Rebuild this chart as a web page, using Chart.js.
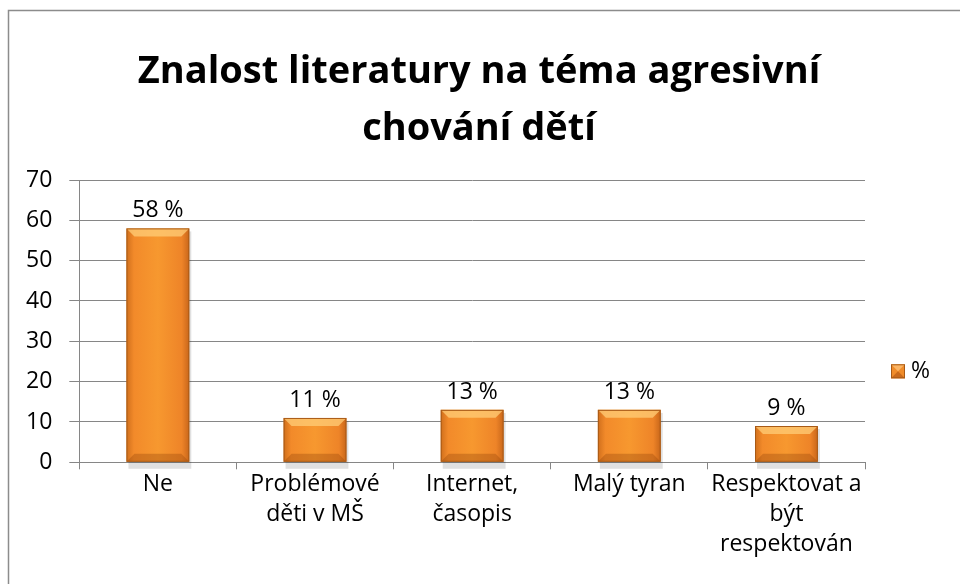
<!DOCTYPE html>
<html>
<head>
<meta charset="utf-8">
<script src="https://cdn.jsdelivr.net/npm/chart.js@4.4.0/dist/chart.umd.min.js"></script>
<style>
  body { margin: 0; background: #fff; }
  #wrap { width: 960px; height: 584px; position: relative; }
</style>
</head>
<body>
<div id="wrap"><canvas id="chart" width="960" height="584"></canvas></div>
<script>
// data
let categories = [['Ne'], ['Problémové', 'děti v MŠ'], ['Internet,', 'časopis'], ['Malý tyran'], ['Respektovat a', 'být', 'respektován']];
let seriesName = '%';
let values = [58, 11, 13, 13, 9];
let valueLabels = ['58 %', '11 %', '13 %', '13 %', '9 %'];
let titleLines = ['Znalost literatury na téma agresivní', 'chování dětí'];

let fontName = '"Open Sans", Lato, sans-serif';
let gridColor = '#868686';
let barColor = '#F08C2A';

// bar fill - horizontal gradient, darker at the sides
function barFill(context) {
  let chart = context.chart;
  let xs = chart.scales.x;
  if (!chart.chartArea || !xs) return barColor;
  let cx = xs.getPixelForValue(context.dataIndex);
  let w = (chart.chartArea.right - chart.chartArea.left) / values.length * 0.4;
  if (!isFinite(cx) || !isFinite(w)) return barColor;
  let g = chart.ctx.createLinearGradient(cx - w / 2, 0, cx + w / 2, 0);
  g.addColorStop(0, '#D06F1C');
  g.addColorStop(0.12, '#F28A2A');
  g.addColorStop(0.5, '#F7982F');
  g.addColorStop(0.88, '#EE8428');
  g.addColorStop(1, '#C8661A');
  return g;
}

// frame around the whole picture
const framePlugin = {
  id: 'frame',
  beforeDraw(chart) {
    let c = chart.ctx;
    c.save();
    c.fillStyle = '#fff';
    c.fillRect(0, 0, chart.width, chart.height);
    c.strokeStyle = '#8c8c8c';
    c.lineWidth = 1.5;
    c.strokeRect(8.5, 10.5, 990, 600);
    c.restore();
  }
};

// legend on the right, a bevelled box and the series name
const sideLegend = {
  id: 'sideLegend',
  afterDraw(chart) {
    let c = chart.ctx;
    let a = chart.chartArea;
    let x = a.right + 26, y = a.bottom - 98, s = 14;
    c.save();
    c.fillStyle = barColor;
    c.fillRect(x, y, s, s);
    c.beginPath();
    c.moveTo(x, y); c.lineTo(x + s, y); c.lineTo(x + s / 2, y + s / 2); c.closePath();
    c.fillStyle = '#FBB565';
    c.fill();
    c.beginPath();
    c.moveTo(x, y + s); c.lineTo(x + s, y + s); c.lineTo(x + s / 2, y + s / 2); c.closePath();
    c.fillStyle = '#C96A1C';
    c.fill();
    c.strokeStyle = '#A85A16';
    c.lineWidth = 1;
    c.strokeRect(x + 0.5, y + 0.5, s - 1, s - 1);
    c.fillStyle = '#000';
    c.font = '23px ' + fontName;
    c.textAlign = 'left';
    c.textBaseline = 'middle';
    c.fillText(chart.data.datasets[0].label, x + s + 6, y + s / 2);
    c.restore();
  }
};

// bevel + shadow on bars, and the value labels
const barDeco = {
  id: 'barDeco',
  beforeDatasetsDraw(chart) {
    let c = chart.ctx;
    let meta = chart.getDatasetMeta(0);
    c.save();
    meta.data.forEach(function (bar) {
      let w = bar.width;
      c.fillStyle = 'rgba(0,0,0,0.12)';
      c.fillRect(bar.x - w / 2 + 2, bar.y + 3, w, bar.base - bar.y + 4);
    });
    c.restore();
  },
  afterDatasetsDraw(chart) {
    let c = chart.ctx;
    let meta = chart.getDatasetMeta(0);
    c.save();
    meta.data.forEach(function (bar, i) {
      let w = bar.width;
      let l = bar.x - w / 2, r = bar.x + w / 2, t = bar.y, b = bar.base;
      let bv = Math.min(8, (b - t) / 3);
      // top bevel
      c.beginPath();
      c.moveTo(l, t); c.lineTo(r, t); c.lineTo(r - bv, t + bv); c.lineTo(l + bv, t + bv); c.closePath();
      c.fillStyle = 'rgba(255,205,120,0.75)';
      c.fill();
      // bottom bevel
      c.beginPath();
      c.moveTo(l, b); c.lineTo(r, b); c.lineTo(r - bv, b - bv); c.lineTo(l + bv, b - bv); c.closePath();
      c.fillStyle = 'rgba(150,70,10,0.35)';
      c.fill();
      // outline
      c.strokeStyle = '#A85A16';
      c.lineWidth = 1;
      c.strokeRect(l + 0.5, t + 0.5, w - 1, b - t - 1);
      // value label
      c.fillStyle = '#000';
      c.font = '23px ' + fontName;
      c.textAlign = 'center';
      c.textBaseline = 'bottom';
      c.fillText(valueLabels[i], bar.x, t - 6);
    });
    c.restore();
  }
};

var ctx = document.getElementById('chart').getContext('2d');
var chart = new Chart(ctx, {
  type: 'bar',
  data: {
    labels: categories,
    datasets: [{
      label: seriesName,
      data: values,
      backgroundColor: barFill,
      borderWidth: 0,
      barPercentage: 0.8,
      categoryPercentage: 0.5
    }]
  },
  options: {
    responsive: false,
    animation: false,
    layout: { padding: { top: 14, left: 9, right: 11, bottom: 25 } },
    plugins: {
      title: {
        display: true,
        text: titleLines,
        color: '#000',
        font: { family: fontName, size: 38, weight: 'bold', lineHeight: 1.5 },
        padding: { top: 30, bottom: 22 }
      },
      legend: { display: false },
      tooltip: { enabled: false }
    },
    scales: {
      x: {
        grid: { offset: true, drawOnChartArea: false, tickLength: 7, color: gridColor },
        border: { color: gridColor },
        ticks: { color: '#000', font: { family: fontName, size: 23, lineHeight: 1.3 }, maxRotation: 0, padding: 0 }
      },
      y: {
        min: 0, max: 70,
        grid: { color: gridColor, tickLength: 10 },
        border: { color: gridColor },
        ticks: { stepSize: 10, color: '#000', font: { family: fontName, size: 23 }, padding: 17 }
      },
      // empty right-hand axis, only keeps room for the legend
      yRoom: {
        position: 'right',
        grid: { display: false },
        border: { display: false },
        ticks: { display: false },
        afterFit: function (scale) { scale.width = 84; }
      }
    }
  },
  plugins: [framePlugin, barDeco, sideLegend]
});
</script>
</body>
</html>
